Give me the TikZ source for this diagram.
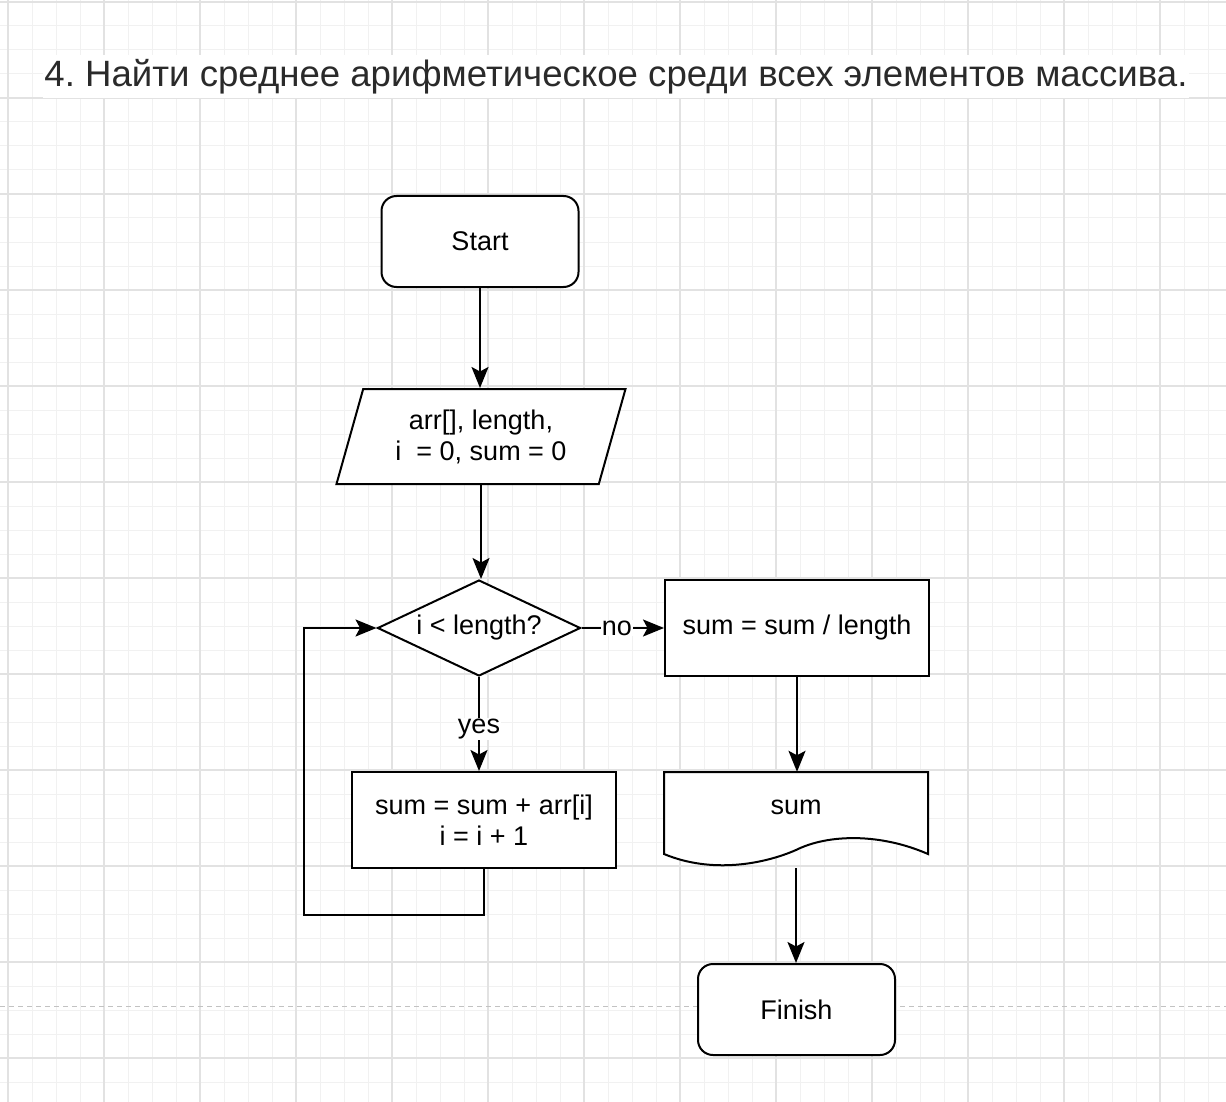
\documentclass[tikz,border=0pt]{standalone}
\usepackage{fontspec}
\setmainfont{Liberation Sans}
\usetikzlibrary{shapes.geometric,arrows.meta}

\definecolor{gridminor}{HTML}{F1F1F1}
\definecolor{gridmajor}{HTML}{E2E2E2}
\definecolor{pagebreak}{HTML}{C2C2C2}
\definecolor{titlegray}{HTML}{2A2A2A}

\tikzset{
  blk/.style={draw, line width=2pt, fill=white, align=center,
    font=\fontsize{27}{31}\selectfont},
  termbox/.style={blk, rounded corners=15pt, minimum width=197pt, minimum height=91pt},
  iobox/.style={blk, trapezium, trapezium left angle=63.7, trapezium right angle=116.3,
    trapezium stretches body, minimum width=289pt, minimum height=95pt, inner sep=0pt},
  decbox/.style={blk, diamond, aspect=2.1, inner sep=0pt, minimum width=203pt, minimum height=96pt},
  procbox/.style={blk, minimum width=264pt, minimum height=96pt},
  docbox/.style={minimum width=264pt, minimum height=96pt, inner sep=0pt},
  txt/.style={align=center, font=\fontsize{27}{31}\selectfont},
  lbl/.style={fill=white, inner sep=1pt, font=\fontsize{27}{31}\selectfont},
  flow/.style={line width=2pt, -{Stealth[length=21pt, width=17pt, inset=4.5pt]}}
}

\begin{document}
\begin{tikzpicture}[x=1pt, y=-1pt]
\useasboundingbox (0,0) rectangle (1226,1102);

% grid
\foreach \gx in {8,32,...,1226}
{
    \draw[gridminor, line width=1pt] (\gx,0) -- (\gx,1102);
}
\foreach \gy in {2,26,...,1102}
{
    \draw[gridminor, line width=1pt] (0,\gy) -- (1226,\gy);
}
\foreach \gx in {8,104,...,1226}
{
    \draw[gridmajor, line width=1.3pt] (\gx,0) -- (\gx,1102);
}
\foreach \gy in {2,98,...,1102}
{
    \draw[gridmajor, line width=1.3pt] (0,\gy) -- (1226,\gy);
}
\draw[pagebreak, line width=1.5pt, dash pattern=on 5pt off 4pt] (0,1006.5) -- (1226,1006.5);

\node[fill=white, text=titlegray, inner xsep=1pt, minimum height=43pt,
  font=\fontsize{36.6}{40}\selectfont] (title) at (616,76.5)
  {4.\ Найти среднее арифметическое среди всех элементов массива.};

\node[termbox] (start) at (480,241.5) {Start};
\node[iobox] (init) at (481,436.5) {arr[], length,\\i\ \ = 0, sum = 0};
\node[decbox] (cond) at (479,628) {i < length?};
\node[procbox] (body) at (484,820) {sum = sum + arr[i]\\i = i + 1};
\node[procbox] (calc) at (797,628) {sum = sum / length};
\node[docbox] (outsum) at (796,820) {};
\draw[line width=2pt, fill=white] (664,772) -- (928,772) -- (928,854)
  .. controls (880,833) and (828,834) .. (796,850)
  .. controls (764,864) and (712,874) .. (664,854) -- cycle;
\node[txt] (outsumtxt) at (796,807) {sum};
\node[termbox] (finish) at (796.5,1009.5) {Finish};

\coordinate (loopturn) at (304,915);

\draw[flow] (start.south) -- (start.south |- init.north);
\draw[flow] (init.south) -- (init.south |- cond.north);
\draw[flow] (cond.east) -- node[lbl, pos=0.43]{no} (calc.west);
\draw[flow] (cond.south) -- node[lbl, pos=0.55]{yes} (cond.south |- body.north);
\draw[flow] (body.south) |- (loopturn) |- (cond.west);
\draw[flow] (calc.south) -- (calc.south |- outsum.north);
\draw[flow] (outsum.south) -- (outsum.south |- finish.north);
\end{tikzpicture}
\end{document}
